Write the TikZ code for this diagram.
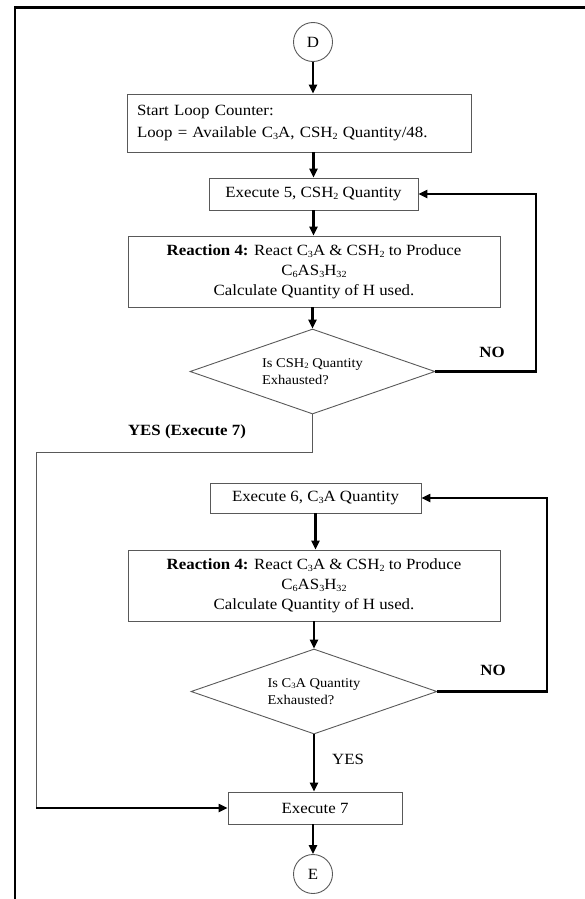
\documentclass[tikz,border=0pt]{standalone}
\usepackage{fontspec}
\setmainfont{Liberation Serif}[FakeStretch=1.08]
\usetikzlibrary{arrows.meta,shapes.geometric}
\definecolor{edgegray}{gray}{0.35}
% small, slightly lowered digits for chemical formulas
\newcommand\sbx[1]{\raisebox{-0.25ex}{\scalebox{0.6}{#1}}}

\begin{document}
\begin{tikzpicture}[x=1pt,y=-1pt,
  every node/.style={font=\fontsize{15.6}{20}\selectfont},
  box/.style={draw=edgegray, line width=0.9pt, inner sep=0pt, align=center},
  term/.style={draw=edgegray, line width=0.9pt, circle, minimum size=39pt, inner sep=0pt},
  decision/.style={draw=edgegray, line width=0.9pt, diamond, aspect=2.9, inner sep=0pt,
                   align=left, font=\fontsize{13.4}{17}\selectfont},
  flow/.style={line width=2.2pt, -{Triangle[length=9pt,width=8pt]}},
  thinline/.style={draw=edgegray, line width=0.9pt},
  lbl/.style={font=\fontsize{15.6}{20}\selectfont\bfseries}
]
\useasboundingbox (0,0) rectangle (585,899);

% page frame (top and left edges)
\draw[line width=2.4pt] (15,899) -- (15,7.5) -- (585,7.5);

% first loop: CSH2 quantity
\node[term] (D) at (313,42) {D};
\node[box, align=left, text width=324pt, inner xsep=10pt, minimum height=58pt,
      font=\fontsize{15.6}{22}\selectfont] (b1) at (299,123)
  {Start Loop Counter:\\Loop = Available C\sbx{3}A, CSH\sbx{2} Quantity/48.};
\node[box, minimum width=209pt, minimum height=32pt] (b2) at (313.5,194)
  {Execute 5, CSH\sbx{2} Quantity};
\node[box, minimum width=372pt, minimum height=71pt] (b3) at (314,271.5)
  {\textbf{Reaction 4:} React C\sbx{3}A \& CSH\sbx{2} to Produce\\
   C\sbx{6}AS\sbx{3}H\sbx{32}\\Calculate Quantity of H used.};
\node[decision, minimum width=245pt, minimum height=85pt] (d1) at (312.5,371.5)
  {Is CSH\sbx{2} Quantity\\Exhausted?};

% second loop: C3A quantity
\node[box, minimum width=211pt, minimum height=30pt] (b4) at (315.5,498)
  {Execute 6, C\sbx{3}A Quantity};
\node[box, minimum width=372pt, minimum height=71pt] (b5) at (314,585.5)
  {\textbf{Reaction 4:} React C\sbx{3}A \& CSH\sbx{2} to Produce\\
   C\sbx{6}AS\sbx{3}H\sbx{32}\\Calculate Quantity of H used.};
\node[decision, minimum width=246pt, minimum height=85pt] (d2) at (314,691.5)
  {Is C\sbx{3}A Quantity\\Exhausted?};
\node[box, minimum width=174pt, minimum height=32pt] (b7) at (315,808) {Execute 7};
\node[term] (E) at (313,874) {E};

% routing points
\coordinate (no1) at (536,0);
\coordinate (no2) at (547,0);
\coordinate (yesbend) at (36,452);

% main flow
\draw[flow] (D.south) -- (D.south |- b1.north);
\draw[flow] (b1.south -| b2.north) -- (b2.north);
\draw[flow] (b2.south) -- (b2.south |- b3.north);
\draw[flow] (b3.south -| d1.north) -- (d1.north);
\draw[flow] (b4.south) -- (b4.south |- b5.north);
\draw[flow] (b5.south -| d2.north) -- (d2.north);
\draw[flow] (d2.south) -- (d2.south |- b7.north);
\draw[flow] (b7.south -| E.north) -- (E.north);

% "NO" loops back
\draw[flow] (d1.east) -- (d1.east -| no1) |- (b2.east);
\draw[flow] (d2.east) -- (d2.east -| no2) |- (b4.east);

% "YES" exit of the first loop
\draw[thinline] (d1.south) -- (d1.south |- yesbend) -- (yesbend) -- (yesbend |- b7.west);
\draw[flow] (yesbend |- b7.west) -- (b7.west);

% labels
\node[lbl] (lno1) at (492,352) {NO};
\node[lbl] (lno2) at (493,670) {NO};
\node[lbl] (lyes1) at (187,432) {YES (Execute 7)};
\node (lyes2) at (348,759) {YES};
\end{tikzpicture}
\end{document}
